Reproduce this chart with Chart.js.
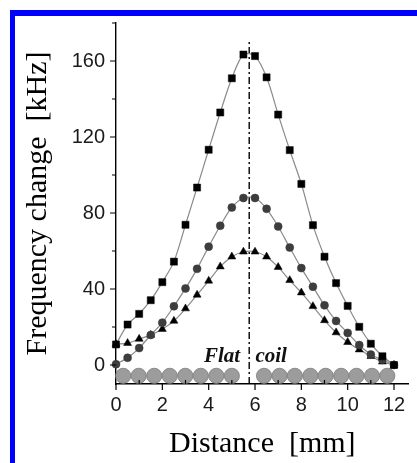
<!DOCTYPE html>
<html>
<head>
<meta charset="utf-8">
<script src="https://cdn.jsdelivr.net/npm/chart.js@4"></script>
<style>
  html, body { margin: 0; padding: 0; background: #fff; }
  canvas { display: block; }
</style>
</head>
<body>
<canvas id="myChart" width="417" height="463"></canvas>
<script>
// distance along the coil [mm]
const distance = [0, 0.5, 1, 1.5, 2, 2.5, 3, 3.5, 4, 4.5, 5, 5.5, 6,
                  6.5, 7, 7.5, 8, 8.5, 9, 9.5, 10, 10.5, 11, 11.5, 12];

// frequency change [kHz]
const squares = [10.8, 21.3, 26.9, 34.1, 43.6, 54.4, 73.8, 93.4, 113.3, 132.9, 150.9, 163.4, 162.6,
                 151.4, 131.8, 113.1, 95.3, 73.6, 57.0, 43.1, 31.1, 20.1, 11.2, 4.6, 0];
const circles = [0.4, 3.8, 8.9, 15.8, 22.3, 30.9, 40.3, 50.6, 62.3, 73.3, 82.9, 87.9, 87.9,
                 82.2, 72.9, 61.8, 51.0, 41.2, 31.4, 23.2, 16.9, 10.5, 5.5, 2.7, 0];
const triangles = [11.0, 11.5, 13.7, 15.8, 18.9, 23.2, 29.7, 36.9, 44.3, 51.8, 57.0, 59.6, 59.6,
                   57.0, 51.5, 44.6, 38.1, 30.9, 23.5, 17.1, 12.0, 8.1, 4.6, 1.7, 0];

// coil windings drawn under the curves
const coilX = [0.31, 0.98, 1.65, 2.32, 2.99, 3.66, 4.33, 5.0,
               6.39, 7.06, 7.72, 8.39, 9.05, 9.72, 10.38, 11.05, 11.71];
const coilY = -5.7;

// coil centre line
const centreX = 5.75;
const centreTop = 171;

const xTickLabels = [0, 2, 4, 6, 8, 10, 12];
const yTickLabels = [0, 40, 80, 120, 160];
const xMinorTicks = [1, 3, 5, 7, 9, 11];
const yMinorTicks = [20, 60, 100, 140, 180];

const toPoints = (xs, ys) => xs.map((x, i) => ({ x: x, y: ys[i] }));

const lineGrey = "#8a8a8a";

// blue frame, tick marks and the "Flat coil" label
const decorations = {
    id: "decorations",
    beforeDraw(chart) {
        const ctx = chart.ctx;
        ctx.save();
        ctx.fillStyle = "#fff";
        ctx.fillRect(0, 0, chart.width, chart.height);
        ctx.fillStyle = "#0000ff";
        ctx.fillRect(10, 10, chart.width - 10, 6);
        ctx.fillRect(10, 10, 5, chart.height - 10);
        ctx.restore();
    },
    afterDraw(chart) {
        const ctx = chart.ctx;
        const xs = chart.scales.x;
        const ys = chart.scales.y;
        const area = chart.chartArea;
        ctx.save();
        ctx.strokeStyle = "#000";
        ctx.lineWidth = 1.2;
        ctx.beginPath();
        xTickLabels.forEach((v) => {
            const px = xs.getPixelForValue(v);
            ctx.moveTo(px, area.bottom);
            ctx.lineTo(px, area.bottom + 6);
        });
        xMinorTicks.forEach((v) => {
            const px = xs.getPixelForValue(v);
            ctx.moveTo(px, area.bottom);
            ctx.lineTo(px, area.bottom - 4);
        });
        yTickLabels.forEach((v) => {
            const py = ys.getPixelForValue(v);
            ctx.moveTo(area.left, py);
            ctx.lineTo(area.left - 6, py);
        });
        yMinorTicks.forEach((v) => {
            const py = ys.getPixelForValue(v);
            ctx.moveTo(area.left, py);
            ctx.lineTo(area.left - 4, py);
        });
        ctx.stroke();

        ctx.fillStyle = "#111";
        ctx.font = "italic bold 21px 'Liberation Serif'";
        ctx.textBaseline = "alphabetic";
        const ty = ys.getPixelForValue(1.6);
        ctx.textAlign = "right";
        ctx.fillText("Flat", xs.getPixelForValue(5.36), ty);
        ctx.textAlign = "left";
        ctx.fillText("coil", xs.getPixelForValue(6.02), ty);
        ctx.restore();
    },
};

const ctx = document.getElementById("myChart").getContext("2d");

new Chart(ctx, {
    type: "scatter",
    data: {
        datasets: [
            {
                label: "squares",
                data: toPoints(distance, squares),
                showLine: true,
                borderColor: lineGrey,
                borderWidth: 1.2,
                tension: 0.3,
                pointStyle: "rect",
                pointRadius: 5,
                pointBackgroundColor: "#000",
                pointBorderColor: "#000",
                pointBorderWidth: 0.5,
                clip: false,
                order: 1,
            },
            {
                label: "circles",
                data: toPoints(distance, circles),
                showLine: true,
                borderColor: lineGrey,
                borderWidth: 1.2,
                tension: 0.3,
                pointStyle: "circle",
                pointRadius: 4,
                pointBackgroundColor: "#3d3d3d",
                pointBorderColor: "#3d3d3d",
                pointBorderWidth: 0.5,
                clip: false,
                order: 2,
            },
            {
                label: "triangles",
                data: toPoints(distance, triangles),
                showLine: true,
                borderColor: lineGrey,
                borderWidth: 1.2,
                tension: 0.3,
                pointStyle: "triangle",
                pointRadius: 4.6,
                pointBackgroundColor: "#000",
                pointBorderColor: "#000",
                pointBorderWidth: 0.5,
                clip: false,
                order: 3,
            },
            {
                label: "centre",
                data: [{ x: centreX, y: -10 }, { x: centreX, y: centreTop }],
                showLine: true,
                borderColor: "#000",
                borderWidth: 1.4,
                borderDash: [7, 3, 2, 3],
                pointRadius: 0,
                order: 4,
            },
            {
                label: "coil",
                data: coilX.map((x) => ({ x: x, y: coilY })),
                showLine: false,
                pointStyle: "circle",
                pointRadius: 7.6,
                pointBackgroundColor: "#9c9c9c",
                pointBorderColor: "#7a7a7a",
                pointBorderWidth: 0.8,
                clip: false,
                order: 5,
            },
        ],
    },
    options: {
        responsive: false,
        animation: false,
        layout: { padding: { left: 0, right: 0, top: 16, bottom: 0 } },
        plugins: {
            legend: { display: false },
            tooltip: { enabled: false },
        },
        scales: {
            x: {
                type: "linear",
                min: 0,
                max: 12.63,
                afterBuildTicks: (scale) => {
                    scale.ticks = xTickLabels.map((v) => ({ value: v }));
                },
                afterFit: (scale) => { scale.height = 79; },
                grid: { display: false, drawTicks: false },
                border: { display: true, color: "#000", width: 1.4 },
                ticks: {
                    padding: 9,
                    color: "#1a1a1a",
                    font: { family: "'Liberation Sans'", size: 20 },
                },
                title: {
                    display: true,
                    text: "Distance  [mm]",
                    color: "#000",
                    font: { family: "'Liberation Serif'", size: 30 },
                    padding: { top: 0, bottom: 1 },
                },
            },
            y: {
                type: "linear",
                min: -10,
                max: 180,
                afterBuildTicks: (scale) => {
                    scale.ticks = yTickLabels.map((v) => ({ value: v }));
                },
                afterFit: (scale) => { scale.width = 116; },
                grid: { display: false, drawTicks: false },
                border: { display: true, color: "#000", width: 1.4 },
                ticks: {
                    padding: 11,
                    color: "#1a1a1a",
                    font: { family: "'Liberation Sans'", size: 20 },
                },
                title: {
                    display: true,
                    text: "Frequency change  [kHz]",
                    color: "#000",
                    font: { family: "'Liberation Serif'", size: 30 },
                    padding: { top: 20, bottom: 0 },
                },
            },
        },
    },
    plugins: [decorations],
});
</script>
</body>
</html>
